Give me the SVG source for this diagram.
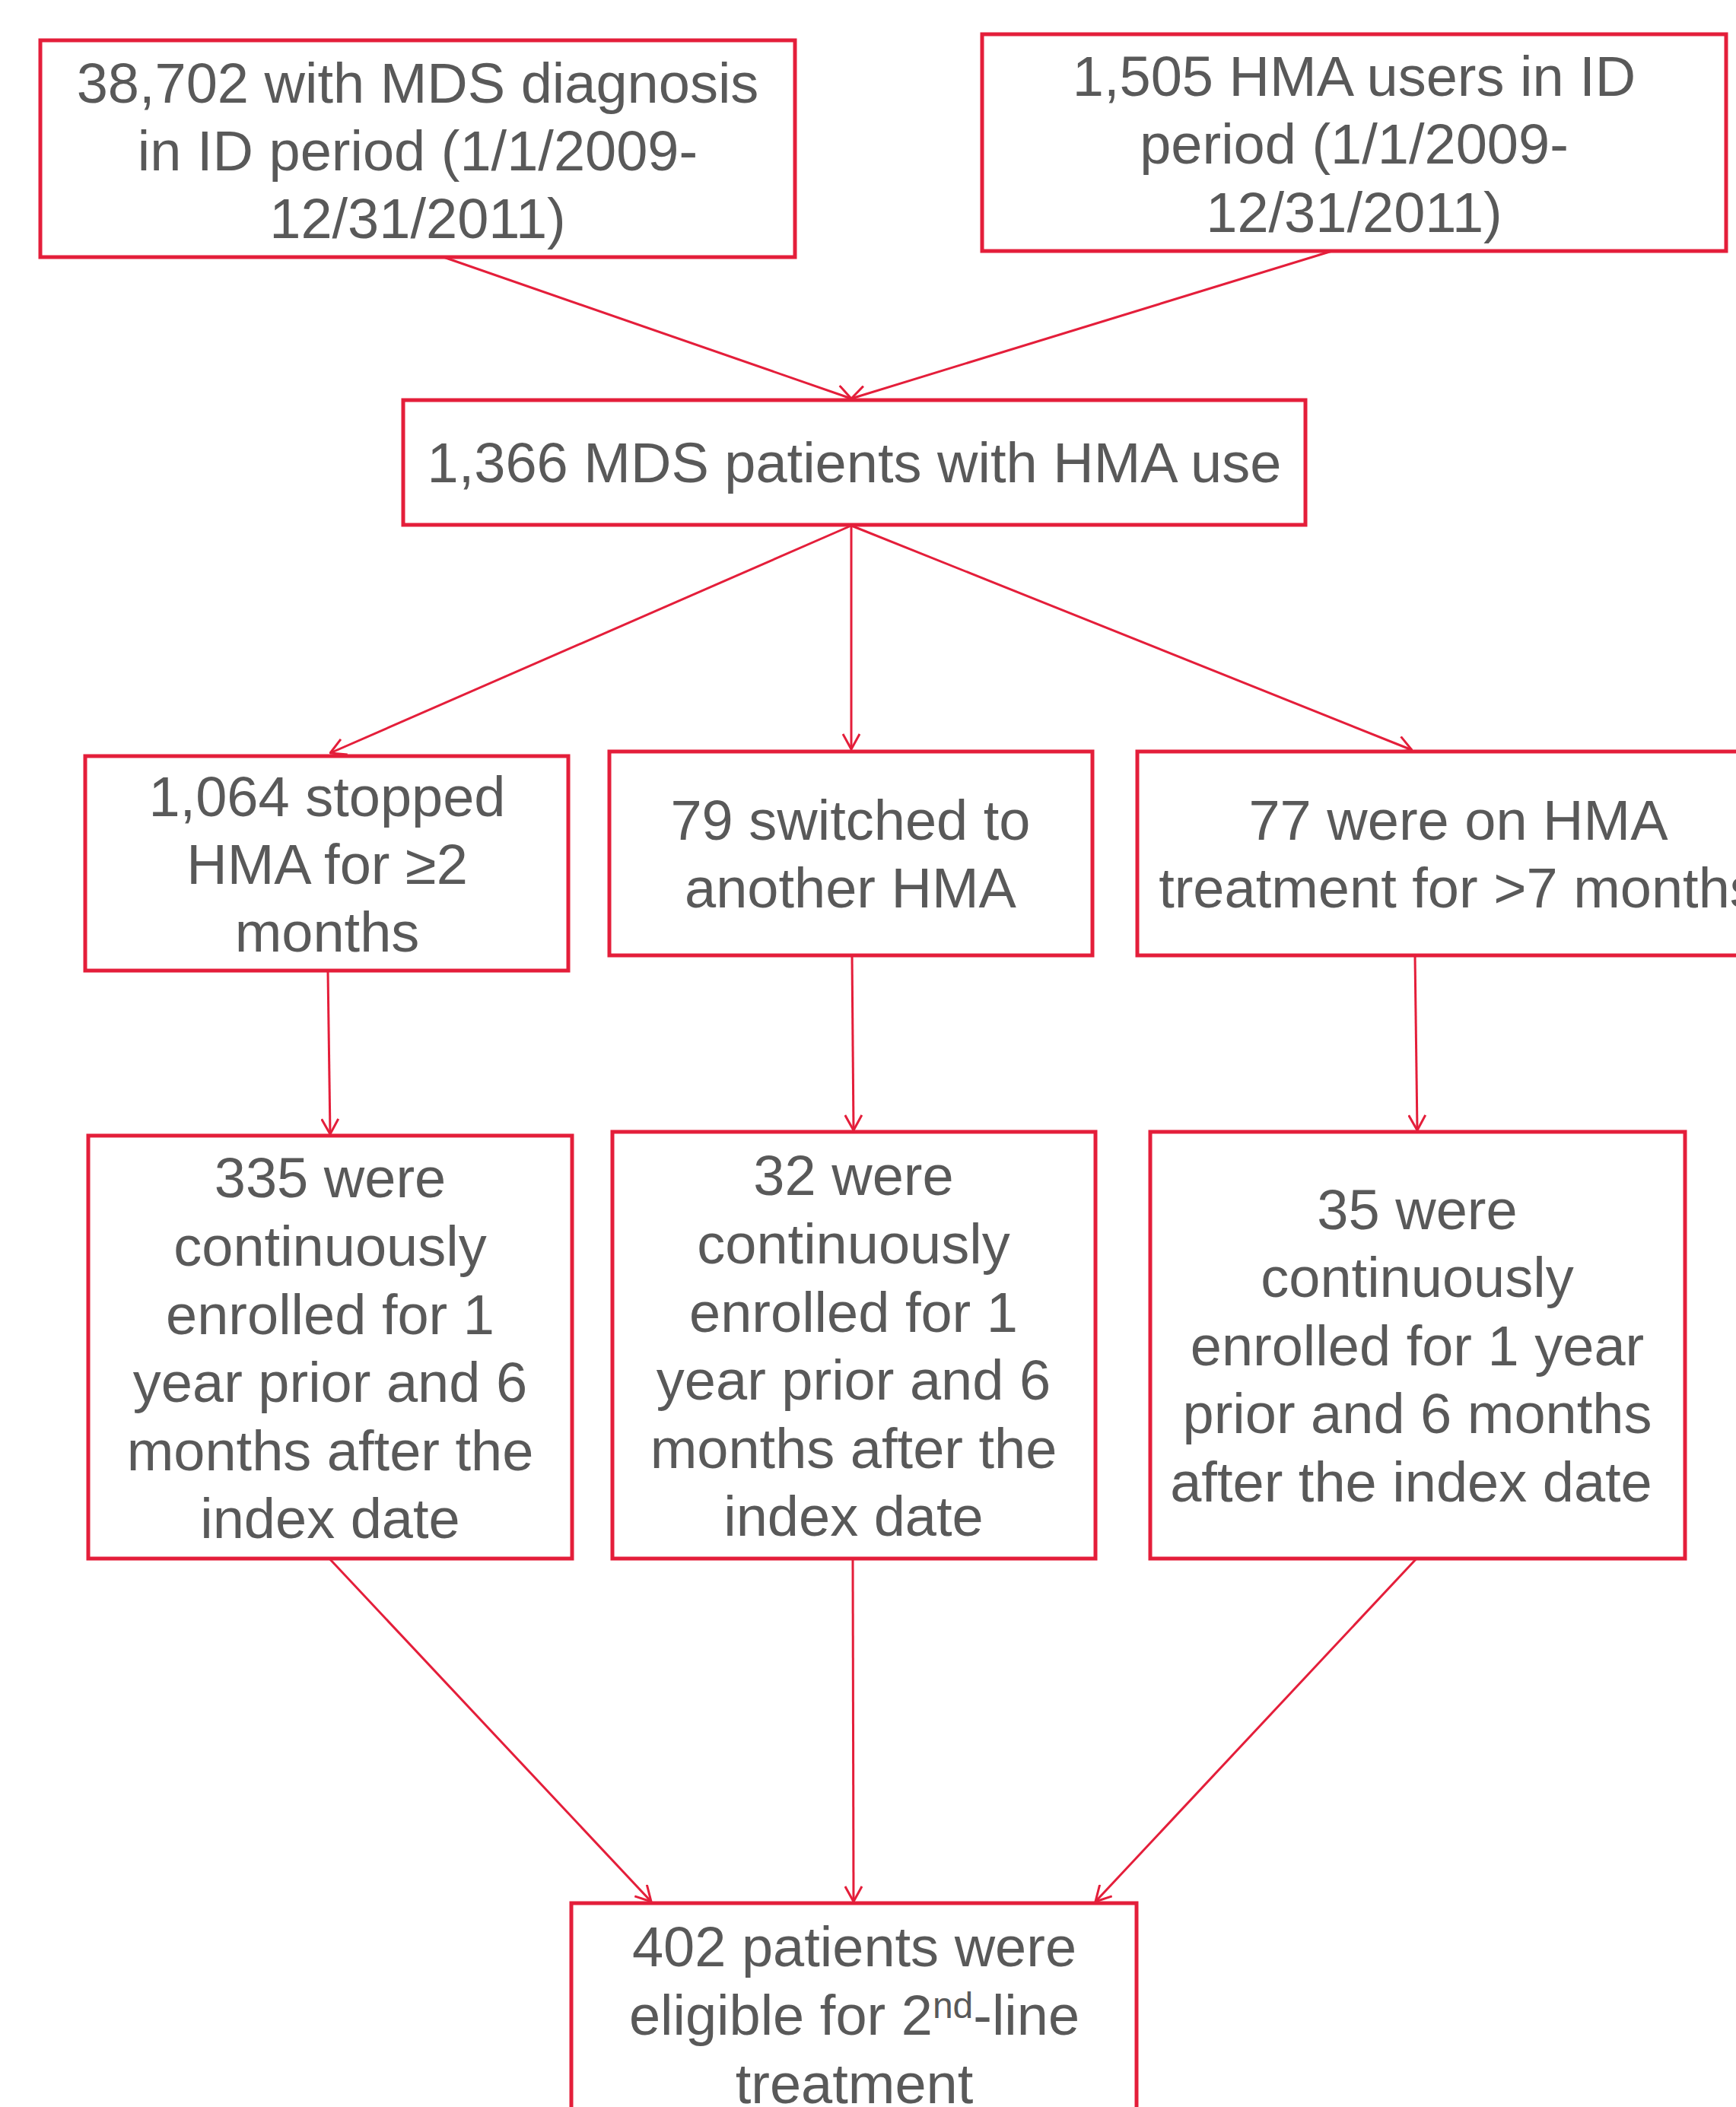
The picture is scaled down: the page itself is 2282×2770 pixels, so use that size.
<svg xmlns="http://www.w3.org/2000/svg" width="2282" height="2770" viewBox="0 0 2282 2770">
<defs>
<style>
.box{fill:#ffffff;stroke:#E41E3A;stroke-width:5}
.t{font-family:"Liberation Sans",Arial,sans-serif;font-size:74px;fill:#595959;text-anchor:middle}
.c{stroke:#E41E3A;stroke-width:3;fill:none}
</style>
<marker id="ah" viewBox="0 0 22 24" refX="21" refY="12" markerWidth="22" markerHeight="24" markerUnits="userSpaceOnUse" orient="auto">
<path d="M1,1 L21,12 L1,23" fill="none" stroke="#E41E3A" stroke-width="3"/>
</marker>
</defs>
<rect width="2282" height="2770" fill="#ffffff"/>
<g id="connectors">
<line class="c" x1="583" y1="338" x2="1119" y2="524" marker-end="url(#ah)"/>
<line class="c" x1="1751" y1="330" x2="1119" y2="524" marker-end="url(#ah)"/>
<line class="c" x1="1119" y1="691" x2="434" y2="990" marker-end="url(#ah)"/>
<line class="c" x1="1119" y1="691" x2="1119" y2="985" marker-end="url(#ah)"/>
<line class="c" x1="1119" y1="691" x2="1856" y2="986" marker-end="url(#ah)"/>
<line class="c" x1="431" y1="1277" x2="434" y2="1491" marker-end="url(#ah)"/>
<line class="c" x1="1120" y1="1256" x2="1122" y2="1486" marker-end="url(#ah)"/>
<line class="c" x1="1860" y1="1256" x2="1863" y2="1486" marker-end="url(#ah)"/>
<line class="c" x1="433" y1="2049" x2="856" y2="2500" marker-end="url(#ah)"/>
<line class="c" x1="1121" y1="2049" x2="1122" y2="2500" marker-end="url(#ah)"/>
<line class="c" x1="1862" y1="2049" x2="1440" y2="2500" marker-end="url(#ah)"/>
</g>
<g id="n1">
<rect class="box" x="53" y="53" width="992" height="285"/>
<text class="t" x="549" y="135">38,702 with MDS diagnosis</text>
<text class="t" x="549" y="224">in ID period (1/1/2009-</text>
<text class="t" x="549" y="313">12/31/2011)</text>
</g>
<g id="n2">
<rect class="box" x="1291" y="45" width="978" height="285"/>
<text class="t" x="1780" y="126">1,505 HMA users in ID</text>
<text class="t" x="1780" y="215">period (1/1/2009-</text>
<text class="t" x="1780" y="305">12/31/2011)</text>
</g>
<g id="n3">
<rect class="box" x="530" y="526" width="1186" height="164"/>
<text class="t" x="1123" y="634">1,366 MDS patients with HMA use</text>
</g>
<g id="n4">
<rect class="box" x="112" y="994" width="635" height="282"/>
<text class="t" x="430" y="1073">1,064 stopped</text>
<text class="t" x="430" y="1162">HMA for ≥2</text>
<text class="t" x="430" y="1251">months</text>
</g>
<g id="n5">
<rect class="box" x="801" y="988" width="635" height="268"/>
<text class="t" x="1118" y="1104">79 switched to</text>
<text class="t" x="1118" y="1193">another HMA</text>
</g>
<g id="n6">
<rect class="box" x="1495" y="988" width="846" height="268"/>
<text class="t" x="1917" y="1104">77 were on HMA</text>
<text class="t" x="1917" y="1193">treatment for &gt;7 months</text>
</g>
<g id="n7">
<rect class="box" x="116" y="1493" width="636" height="556"/>
<text class="t" x="434" y="1574">335 were</text>
<text class="t" x="434" y="1664">continuously</text>
<text class="t" x="434" y="1754">enrolled for 1</text>
<text class="t" x="434" y="1843">year prior and 6</text>
<text class="t" x="434" y="1933">months after the</text>
<text class="t" x="434" y="2022">index date</text>
</g>
<g id="n8">
<rect class="box" x="805" y="1488" width="635" height="561"/>
<text class="t" x="1122" y="1571">32 were</text>
<text class="t" x="1122" y="1661">continuously</text>
<text class="t" x="1122" y="1751">enrolled for 1</text>
<text class="t" x="1122" y="1840">year prior and 6</text>
<text class="t" x="1122" y="1930">months after the</text>
<text class="t" x="1122" y="2019">index date</text>
</g>
<g id="n9">
<rect class="box" x="1512" y="1488" width="703" height="561"/>
<text class="t" x="1863" y="1616">35 were</text>
<text class="t" x="1863" y="1705">continuously</text>
<text class="t" x="1863" y="1795">enrolled for 1 year</text>
<text class="t" x="1863" y="1884">prior and 6 months</text>
<text class="t" x="1855" y="1974">after the index date</text>
</g>
<g id="n10">
<rect class="box" x="751" y="2502" width="743" height="320"/>
<text class="t" x="1123" y="2585">402 patients were</text>
<text class="t" x="1123" y="2675">eligible for 2<tspan font-size="48" dy="-22">nd</tspan><tspan dy="22">-line</tspan></text>
<text class="t" x="1123" y="2765">treatment</text>
</g>
</svg>
